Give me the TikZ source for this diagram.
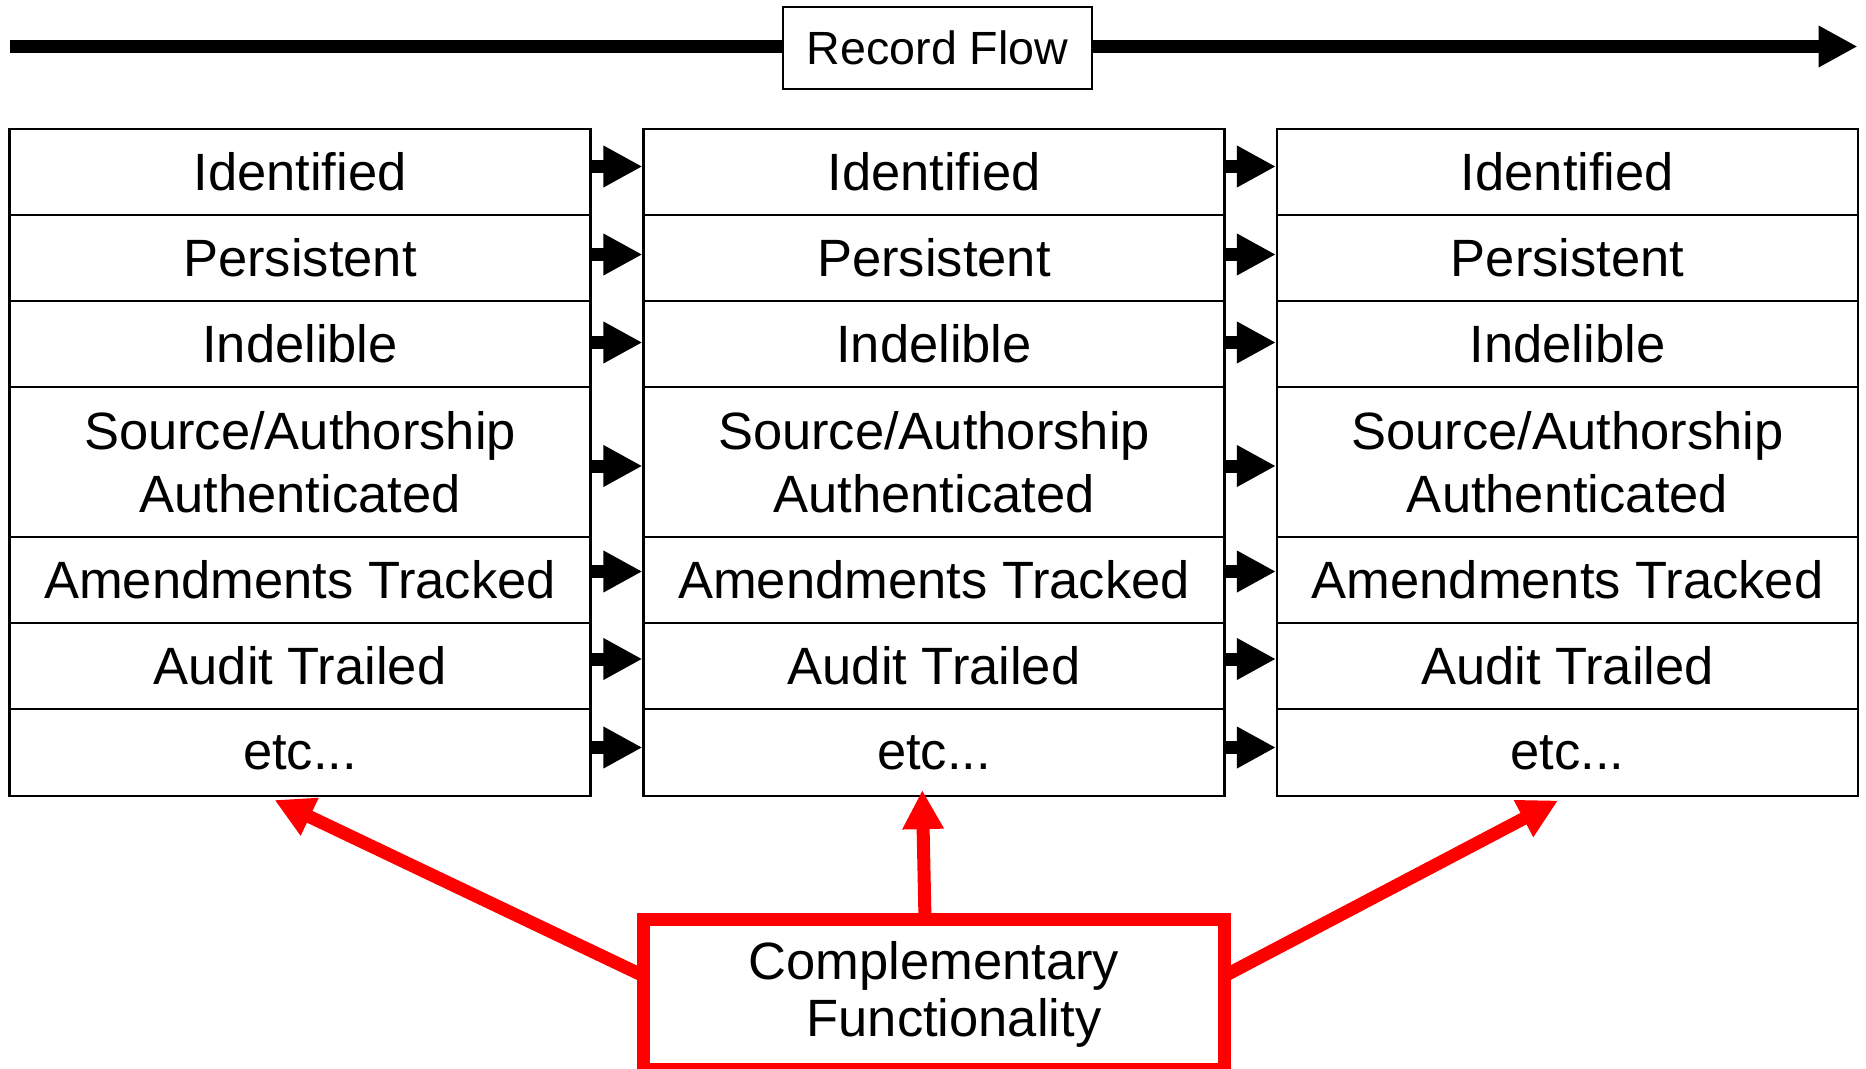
\documentclass[tikz,border=0pt]{standalone}
\usepackage{fontspec}
\setmainfont{Liberation Sans}
\usetikzlibrary{arrows.meta,calc}
\begin{document}
\begin{tikzpicture}[x=0.5pt,y=-0.5pt,
  cell/.style={draw, line width=1.1pt, minimum width=290.5pt, inner sep=0pt, align=center,
    font=\fontsize{26.25pt}{31.5pt}\selectfont},
  flowarrow/.style={line width=6.5pt, -{Triangle[length=19.5pt,width=19.5pt]}},
  redarrow/.style={draw=red, line width=6.5pt, -{Triangle[length=19.5pt,width=19.5pt]}},
  flowbox/.style={draw, fill=white, line width=1pt, minimum width=154.5pt, minimum height=41pt,
    inner sep=0pt, font=\fontsize{23.3pt}{28pt}\selectfont},
  redbox/.style={draw=red, line width=6.5pt, minimum width=290.25pt, minimum height=74.85pt,
    inner sep=0pt, align=center, font=\fontsize{26.25pt}{28.35pt}\selectfont}
]
\useasboundingbox (0,0) rectangle (1866,1069);

% top record flow arrow
\coordinate (fs) at (9.5,46.5);
\coordinate (fe) at (1857.5,46.5);
\draw[flowarrow] (fs) -- (fe);
\node[flowbox] (rf) at (937.5,48) {Record Flow};

% columns
\foreach \col/\x in {1/300,2/934,3/1567.5}{
  \node[cell, minimum height=43pt] (r1-\col) at (\x,172) {Identified};
  \node[cell, minimum height=43pt] (r2-\col) at (\x,258) {Persistent};
  \node[cell, minimum height=43pt] (r3-\col) at (\x,344) {Indelible};
  \node[cell, minimum height=75pt] (r4-\col) at (\x,462) {Source/Authorship\\Authenticated};
  \node[cell, minimum height=43pt] (r5-\col) at (\x,580) {Amendments Tracked};
  \node[cell, minimum height=43pt] (r6-\col) at (\x,666) {Audit Trailed};
  \node[cell, minimum height=43.5pt] (r7-\col) at (\x,752.5) {etc...};
}

% arrows between columns
\foreach \a/\b in {1/2,2/3}{
  \foreach \r/\d in {1/-5.5,2/-3.5,3/-1.5,4/4,5/-8.5,6/-7,7/-5}{
    \draw[flowarrow] ($(r\r-\a.east)+(0,\d)$) -- ($(r\r-\b.west)+(0,\d)$);
  }
}

% complementary functionality box
\node[redbox] (cf) at (934,994.35) {Complementary\\\hspace*{20pt}Functionality};

\draw[redarrow] ($(cf.north)+(-9,6.5)$) -- ($(r7-2.south)+(-11.7,-7)$);
\draw[redarrow] ($(cf.west)+(6.5,-18.4)$) -- ($(r7-1.south)+(-25.5,2.9)$);
\draw[redarrow] ($(cf.east)+(-6.5,-18.4)$) -- ($(r7-3.south)+(-9.5,3.4)$);
\end{tikzpicture}
\end{document}
